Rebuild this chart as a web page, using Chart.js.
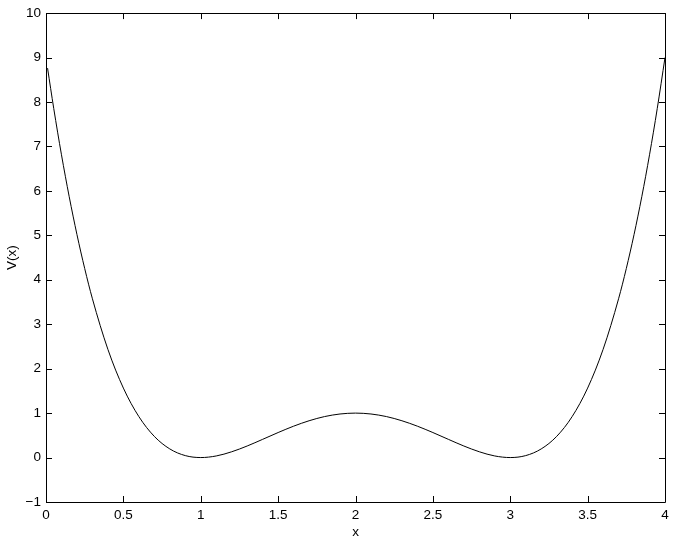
<!DOCTYPE html>
<html>
<head>
<meta charset="utf-8">
<script src="https://cdn.jsdelivr.net/npm/chart.js@4/dist/chart.umd.min.js"></script>
<style>
html,body{margin:0;padding:0;background:#fff;}
#wrap{width:675px;height:542px;position:relative;}
</style>
</head>
<body>
<div id="wrap"><canvas id="c" width="675" height="542"></canvas></div>
<script>
// Values
const xValues = [0.01,0.05,0.1,0.15,0.2,0.25,0.3,0.4,0.5,0.6,0.7,0.8,0.9,1.0,1.1,1.2,1.3,1.4,1.5,1.6,1.7,1.8,1.9,2.0,2.1,2.2,2.3,2.4,2.5,2.6,2.7,2.8,2.9,3.0,3.1,3.2,3.3,3.4,3.5,3.6,3.7,3.75,3.8,3.85,3.9,3.95,4.0];
const vValues = [8.762,7.854,6.812,5.869,5.018,4.254,3.572,2.434,1.563,0.922,0.476,0.194,0.044,0.0,0.036,0.130,0.260,0.410,0.563,0.706,0.828,0.922,0.980,1.0,0.980,0.922,0.828,0.706,0.563,0.410,0.260,0.130,0.036,0.0,0.044,0.194,0.476,0.922,1.563,2.434,3.572,4.254,5.018,5.869,6.812,7.854,9.0];
const xTicks = [0,0.5,1,1.5,2,2.5,3,3.5,4];
const yTicks = [-1,0,1,2,3,4,5,6,7,8,9,10];

const FONT = {family: '"Liberation Sans", Arial, Helvetica, sans-serif', size: 13.5};

const boxPlugin = {
  id: 'box',
  afterDraw(chart) {
    const ctx = chart.ctx;
    const a = chart.chartArea;
    const xs = chart.scales.x, ys = chart.scales.y;
    const L = 6;
    ctx.save();
    ctx.strokeStyle = '#000';
    ctx.lineWidth = 1;
    ctx.beginPath();
    ctx.rect(Math.round(a.left)+0.5, Math.round(a.top)+0.5, Math.round(a.right)-Math.round(a.left), Math.round(a.bottom)-Math.round(a.top));
    ctx.stroke();
    ctx.beginPath();
    xTicks.forEach(v => {
      const px = Math.round(xs.getPixelForValue(v)) + 0.5;
      ctx.moveTo(px, a.bottom); ctx.lineTo(px, a.bottom - L);
      ctx.moveTo(px, a.top); ctx.lineTo(px, a.top + L);
    });
    yTicks.forEach(v => {
      const py = Math.round(ys.getPixelForValue(v)) + 0.5;
      ctx.moveTo(a.left, py); ctx.lineTo(a.left + L, py);
      ctx.moveTo(a.right, py); ctx.lineTo(a.right - L, py);
    });
    ctx.stroke();
    ctx.restore();
  }
};

new Chart(document.getElementById('c'), {
  type: 'scatter',
  data: {
    datasets: [{
      data: xValues.map((x, i) => ({x: x, y: vValues[i]})),
      showLine: true,
      borderColor: '#000',
      borderWidth: 1,
      pointRadius: 0,
      cubicInterpolationMode: 'monotone',
      fill: false
    }]
  },
  options: {
    responsive: false,
    animation: false,
    layout: {padding: {left: 0, right: 10, top: 13, bottom: 0}},
    plugins: {legend: {display: false}, tooltip: {enabled: false}},
    scales: {
      x: {
        type: 'linear', min: 0, max: 4,
        afterBuildTicks(s) { s.ticks = xTicks.map(v => ({value: v})); },
        afterFit(s) { s.height = 40; },
        grid: {display: false, drawTicks: false},
        border: {display: false},
        ticks: {color: '#000', font: FONT, padding: 5, maxRotation: 0,
                callback: v => String(v).replace('-', '\u2212')},
        title: {display: true, text: 'x', color: '#000', font: FONT, padding: {top: 0, bottom: 2}}
      },
      y: {
        type: 'linear', min: -1, max: 10,
        afterBuildTicks(s) { s.ticks = yTicks.map(v => ({value: v})); },
        afterFit(s) { s.width = 46; },
        grid: {display: false, drawTicks: false},
        border: {display: false},
        ticks: {color: '#000', font: FONT, padding: 5,
                callback: v => String(v).replace('-', '\u2212')},
        title: {display: true, text: 'V(x)', color: '#000', font: FONT, padding: {top: 4, bottom: 0}}
      }
    }
  },
  plugins: [boxPlugin]
});
</script>
</body>
</html>
